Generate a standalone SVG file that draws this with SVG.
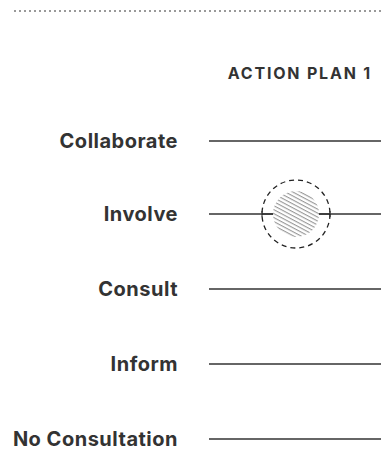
<svg xmlns="http://www.w3.org/2000/svg" width="381" height="451" viewBox="0 0 381 451">
<defs>
<style>
.lbl{font-family:Inter,"Liberation Sans",sans-serif;font-weight:700;font-size:20px;letter-spacing:0.5px;fill:#333;text-anchor:end}
.ttl{font-family:Inter,"Liberation Sans",sans-serif;font-weight:700;font-size:16px;letter-spacing:1.8px;fill:#333;text-anchor:end}
.ln{stroke:#333;stroke-width:1.5;fill:none}
</style>
<pattern id="hatch" patternUnits="userSpaceOnUse" width="3.5" height="3.5" patternTransform="rotate(28)">
<line x1="0" y1="0.6" x2="3.5" y2="0.6" stroke="#8a8a8a" stroke-width="1"/>
</pattern>
</defs>
<rect width="381" height="451" fill="#fff"/>
<line x1="14" y1="11" x2="381" y2="11" stroke="#999" stroke-width="2" stroke-dasharray="2 3"/>
<g id="title"><text x="372" y="79" class="ttl">ACTION PLAN 1</text></g>
<g id="connectors">
<line class="ln" x1="209" y1="141" x2="381" y2="141"/>
<line class="ln" x1="209" y1="214" x2="381" y2="214"/>
<line class="ln" x1="209" y1="289" x2="381" y2="289"/>
<line class="ln" x1="209" y1="364" x2="381" y2="364"/>
<line class="ln" x1="209" y1="439" x2="381" y2="439"/>
</g>
<g id="collaborate"><text x="178" y="148" class="lbl">Collaborate</text></g>
<g id="involve"><text x="178" y="221" class="lbl">Involve</text></g>
<g id="consult"><text x="178" y="296" class="lbl">Consult</text></g>
<g id="inform"><text x="178" y="371" class="lbl">Inform</text></g>
<g id="no-consultation"><text x="178" y="446" class="lbl">No Consultation</text></g>
<g id="marker">
<circle cx="296" cy="214" r="23" fill="#fff"/>
<circle cx="296" cy="214" r="23" fill="url(#hatch)"/>
<line class="ln" x1="262" y1="214" x2="273" y2="214"/>
<line class="ln" x1="319" y1="214" x2="330" y2="214"/>
<circle cx="296" cy="214" r="34" fill="none" stroke="#222" stroke-width="1.3" stroke-dasharray="5 4"/>
<line x1="262" y1="211" x2="262" y2="217" stroke="#222" stroke-width="1"/>
<line x1="330" y1="211" x2="330" y2="217" stroke="#222" stroke-width="1"/>
</g>
</svg>
